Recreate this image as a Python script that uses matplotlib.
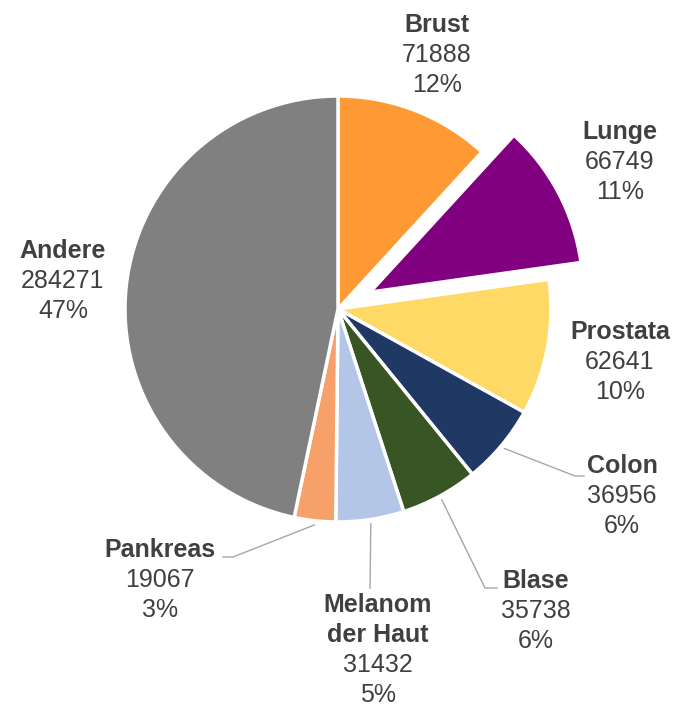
import matplotlib.pyplot as plt
import numpy as np

plt.rcParams['font.family'] = ['Liberation Sans', 'DejaVu Sans']

# Krebsneuerkrankungen nach Lokalisation
namen = ['Brust', 'Lunge', 'Prostata', 'Colon', 'Blase',
         'Melanom\nder Haut', 'Pankreas', 'Andere']
faelle = [71888, 66749, 62641, 36956, 35738, 31432, 19067, 284271]
farben = ['#FF9933', '#800080', '#FFD966', '#1F3864', '#375623',
          '#B4C6E7', '#F8A06A', '#808080']
abstand = [0, 0.17, 0, 0, 0, 0, 0, 0]

W, H = 677, 704
cx, cy, R = 338, 309, 213   # Mittelpunkt und Radius in Pixeln


def p(px, py):
    # Pixel -> Achsenkoordinaten (Radius = 1)
    return (px - cx) / R, (cy - py) / R


fig = plt.figure(figsize=(W / 100, H / 100), dpi=100)
ax = fig.add_axes([0, 0, 1, 1])

wedges, _ = ax.pie(faelle, colors=farben, startangle=90, counterclock=False,
                   explode=abstand, radius=1,
                   wedgeprops=dict(edgecolor='white', linewidth=2.5))

# pie() setzt eigene Grenzen, daher erst danach festlegen
ax.set_xlim(-cx / R, (W - cx) / R)
ax.set_ylim((cy - H) / R, cy / R)
ax.set_aspect('equal')
ax.axis('off')

gesamt = sum(faelle)
# Beschriftung: Mitte der Textblöcke (Pixel) und ggf. Knick der Führungslinie
labelpos = {
    'Brust': (437, 25, None),
    'Lunge': (620, 132, None),
    'Prostata': (620, 332, None),
    'Colon': (622, 466, (575, 476, 584)),
    'Blase': (536, 581, (485, 588, 497)),
    'Melanom\nder Haut': (378, 605, (370, 588, 370)),
    'Pankreas': (160, 550, (233, 557, 223)),
    'Andere': (63, 251, None),
}

txtcol = '#404040'
kum = 0
for name, wert in zip(namen, faelle):
    mitte = (kum + wert / 2) / gesamt * 360
    kum += wert
    lx, ly, linie = labelpos[name]
    zeilen = name.split('\n')
    y = ly
    for z in zeilen:
        ax.text(*p(lx, y), z, ha='center', va='center', fontsize=18,
                fontweight='bold', color=txtcol)
        y += 30
    ax.text(*p(lx, y), str(wert), ha='center', va='center', fontsize=18,
            color=txtcol)
    ax.text(*p(lx, y + 30), f'{round(wert / gesamt * 100)}%', ha='center',
            va='center', fontsize=18, color=txtcol)
    if linie:
        a = np.radians(90 - mitte)
        sx, sy = 1.02 * np.cos(a), 1.02 * np.sin(a)
        kx, ky = p(linie[0], linie[1])
        ex, ey = p(linie[2], linie[1])
        ax.plot([sx, kx, ex], [sy, ky, ey], color='#A6A6A6', lw=1)

fig.savefig('out.png', dpi=100)
